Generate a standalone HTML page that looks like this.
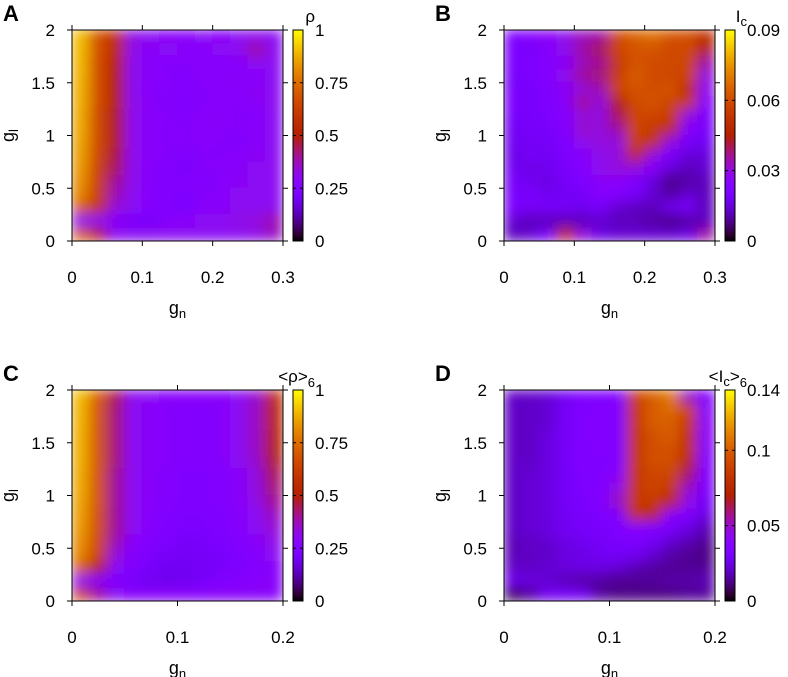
<!DOCTYPE html>
<html><head><meta charset="utf-8">
<style>
body{margin:0;background:#fff;}
svg{display:block;font-family:"Liberation Sans",sans-serif;}
</style></head>
<body>
<svg id="fig" width="788" height="677" viewBox="0 0 788 677">
<defs>
<filter id="blur" x="-10%" y="-10%" width="120%" height="120%"><feGaussianBlur stdDeviation="6.5" edgeMode="duplicate"/></filter>
</defs>
</svg>
<script>
// ---- data ----
const rowsY = [1.94,1.81,1.69,1.56,1.44,1.31,1.19,1.06,0.94,0.81,0.69,0.56,0.44,0.31,0.19,0.06];
const yTicks = ["0","0.5","1","1.5","2"];
const xTicksAB = ["0","0.1","0.2","0.3"];
const xTicksCD = ["0","0.1","0.2"];
const cbTicksA = ["0","0.25","0.5","0.75","1"];
const cbTicksB = ["0","0.03","0.06","0.09"];
const cbTicksC = ["0","0.25","0.5","0.75","1"];
const cbTicksD = ["0","0.05","0.1","0.14"];
const gridA = [
[.90,.68,.56,.32,.30,.28,.28,.30,.28,.30,.30,.30],
[.90,.68,.55,.32,.28,.30,.28,.27,.30,.30,.40,.30],
[.89,.67,.52,.31,.28,.27,.27,.28,.27,.28,.30,.30],
[.89,.67,.50,.31,.28,.27,.26,.28,.28,.28,.28,.30],
[.88,.67,.50,.31,.27,.27,.26,.27,.28,.28,.29,.30],
[.88,.67,.50,.31,.28,.26,.26,.27,.28,.27,.29,.30],
[.87,.66,.48,.31,.28,.27,.26,.28,.28,.27,.27,.30],
[.87,.66,.48,.31,.28,.27,.27,.28,.28,.27,.28,.30],
[.86,.66,.48,.31,.28,.27,.27,.28,.27,.26,.28,.30],
[.85,.65,.46,.31,.28,.27,.25,.27,.27,.28,.29,.30],
[.84,.64,.44,.31,.27,.26,.24,.27,.28,.28,.30,.30],
[.82,.63,.40,.31,.27,.26,.27,.26,.27,.29,.30,.30],
[.80,.62,.38,.30,.27,.26,.24,.27,.28,.30,.30,.30],
[.72,.58,.34,.30,.26,.25,.24,.28,.28,.30,.30,.30],
[.30,.30,.28,.23,.22,.27,.28,.30,.30,.32,.33,.38],
[.72,.52,.31,.30,.30,.30,.30,.30,.30,.30,.32,.36]];
const gridB = [
[.022,.024,.026,.028,.033,.035,.060,.065,.068,.062,.060,.050],
[.022,.020,.024,.028,.035,.040,.058,.062,.062,.058,.060,.045],
[.022,.022,.024,.026,.033,.036,.055,.062,.060,.060,.058,.035],
[.020,.022,.024,.028,.036,.038,.056,.064,.060,.058,.058,.030],
[.020,.020,.022,.026,.030,.034,.058,.062,.060,.062,.050,.028],
[.022,.020,.022,.026,.036,.030,.045,.060,.062,.058,.055,.025],
[.020,.020,.022,.024,.030,.030,.040,.058,.058,.056,.030,.022],
[.018,.020,.020,.024,.032,.030,.035,.058,.055,.050,.025,.020],
[.018,.018,.020,.022,.028,.030,.030,.056,.052,.030,.020,.018],
[.016,.020,.018,.022,.025,.028,.030,.050,.030,.022,.015,.015],
[.018,.016,.018,.020,.024,.028,.030,.030,.025,.015,.012,.014],
[.020,.018,.016,.020,.022,.026,.026,.022,.015,.008,.010,.012],
[.020,.020,.018,.018,.020,.024,.024,.020,.014,.010,.014,.012],
[.022,.020,.020,.020,.018,.020,.014,.012,.012,.018,.020,.012],
[.014,.012,.012,.012,.012,.014,.012,.012,.010,.008,.010,.012],
[.012,.014,.020,.050,.030,.016,.014,.014,.014,.014,.016,.035]];
const gridC = [
[.90,.72,.45,.30,.30,.28,.28,.28,.28,.30,.35,.56],
[.89,.70,.42,.30,.28,.27,.26,.26,.27,.30,.36,.54],
[.89,.70,.42,.30,.28,.27,.26,.26,.27,.30,.36,.54],
[.88,.70,.42,.30,.28,.27,.26,.26,.27,.30,.36,.52],
[.88,.70,.42,.30,.28,.27,.26,.26,.27,.30,.36,.50],
[.88,.70,.42,.30,.28,.27,.26,.26,.27,.30,.35,.48],
[.87,.69,.40,.30,.28,.26,.25,.25,.26,.28,.33,.44],
[.87,.69,.40,.30,.28,.26,.25,.25,.26,.28,.33,.42],
[.86,.69,.40,.30,.28,.26,.25,.25,.26,.28,.32,.40],
[.85,.68,.40,.30,.27,.25,.24,.24,.25,.27,.30,.36],
[.84,.68,.40,.30,.27,.25,.24,.24,.25,.27,.30,.34],
[.82,.66,.38,.28,.26,.24,.22,.22,.24,.26,.28,.32],
[.80,.64,.34,.27,.24,.22,.21,.22,.23,.25,.27,.30],
[.72,.50,.30,.25,.22,.20,.20,.21,.22,.24,.26,.28],
[.30,.28,.25,.22,.20,.19,.20,.22,.25,.27,.28,.28],
[.65,.40,.30,.28,.28,.28,.28,.28,.28,.28,.28,.28]];
const gridD = [
[.020,.020,.022,.028,.035,.036,.036,.090,.100,.110,.050,.035],
[.020,.020,.022,.030,.035,.036,.036,.085,.100,.105,.090,.038],
[.020,.020,.022,.030,.036,.036,.036,.085,.100,.100,.085,.040],
[.020,.020,.024,.030,.036,.036,.036,.085,.095,.100,.080,.040],
[.020,.020,.024,.030,.035,.036,.036,.085,.095,.095,.080,.038],
[.020,.020,.024,.030,.035,.035,.036,.085,.095,.095,.075,.036],
[.020,.022,.024,.030,.034,.035,.040,.085,.090,.090,.060,.036],
[.020,.022,.024,.030,.034,.035,.045,.085,.090,.085,.050,.034],
[.020,.022,.024,.030,.033,.035,.050,.085,.085,.075,.045,.030],
[.020,.022,.024,.028,.032,.034,.036,.080,.075,.040,.035,.025],
[.020,.022,.024,.028,.030,.032,.034,.038,.036,.032,.025,.018],
[.018,.020,.022,.025,.028,.030,.032,.034,.030,.022,.018,.014],
[.018,.020,.020,.024,.025,.028,.030,.028,.022,.016,.014,.012],
[.020,.020,.022,.024,.025,.025,.022,.018,.015,.014,.014,.014],
[.026,.024,.022,.018,.016,.015,.014,.014,.015,.016,.016,.018],
[.008,.015,.028,.030,.028,.015,.012,.012,.012,.012,.014,.014]];

// ---- helpers ----
const NS="http://www.w3.org/2000/svg";
const svg=document.getElementById('fig');
function mk(tag,attrs,parent){const e=document.createElementNS(NS,tag);for(const k in attrs)e.setAttribute(k,attrs[k]);(parent||svg).appendChild(e);return e;}
function pal(t){t=Math.max(0,Math.min(1,t));const r=Math.sqrt(t),g=t*t*t,b=Math.max(0,Math.sin(2*Math.PI*t));
 return `rgb(${Math.round(r*255)},${Math.round(g*255)},${Math.round(b*255)})`;}
const S=211;

function panel(id,letter,px,py,grid,xMax,cbMax,xTicks,cbTicks,cbTitleHtml){
 const g=mk('g',{});
 
 
 const xs=v=>px+v/xMax*S, ys=v=>py+S-v/2*S;
 const cp=mk('clipPath',{id:'clip'+id},g);
 mk('rect',{x:px,y:py,width:S,height:S},cp);
 const hm=mk('g',{'clip-path':'url(#clip'+id+')'},g);
 
 
 const inner=mk('g',{filter:'url(#blur)'},hm);
 const nc=grid[0].length, nr=grid.length, dx=xMax/nc, dy=2/nr;
 for(let r=0;r<nr;r++){
  for(let c=0;c<nc;c++){
   const x0=xs(c*dx), x1=xs((c+1)*dx);
   const yc=rowsY[r], y0=ys(yc+dy/2), y1=ys(yc-dy/2);
   const cell=mk('rect',{x:x0-0.5,y:y0-0.5,width:x1-x0+1,height:y1-y0+1,fill:pal(grid[r][c]/cbMax)},inner);
   
   
  }
 }
 mk('rect',{x:px,y:py,width:S,height:S,fill:'none',stroke:'#000','stroke-width':1},g);
 xTicks.forEach(t=>{const v=parseFloat(t),x=xs(v);
  mk('line',{x1:x,x2:x,y1:py+S,y2:py+S+5,stroke:'#000'},g);
  mk('line',{x1:x,x2:x,y1:py,y2:py-5,stroke:'#000'},g);
  const tx=mk('text',{x:x,y:py+S+42,'font-size':17,'text-anchor':'middle',fill:'#000'},g);tx.textContent=t;
  
  
 });
 yTicks.forEach(t=>{const v=parseFloat(t),y=ys(v);
  mk('line',{x1:px-5,x2:px,y1:y,y2:y,stroke:'#000'},g);
  mk('line',{x1:px+S,x2:px+S+5,y1:y,y2:y,stroke:'#000'},g);
  const tx=mk('text',{x:px-17,y:y+6,'font-size':17,'text-anchor':'end',fill:'#000'},g);tx.textContent=t;
  
  
 });
 const xt=mk('text',{x:px+S/2,y:py+S+73,'font-size':18,'text-anchor':'middle'},g);
 xt.innerHTML='g<tspan font-size="13" dy="4">n</tspan>';
 
 
 const yt=mk('text',{x:0,y:0,'font-size':18,'text-anchor':'middle',transform:`translate(${px-58},${py+S/2}) rotate(-90)`},g);
 yt.innerHTML='g<tspan font-size="13" dy="4">l</tspan>';
 
 
 const lt=mk('text',{x:px-69,y:py-9,'font-size':22,'font-weight':'bold'},g);lt.textContent=letter;
 
 
 const cx=px+S+10, cw=10;
 const gid='grad'+id;
 const lg=mk('linearGradient',{id:gid,x1:0,y1:1,x2:0,y2:0},g);
 for(let i=0;i<=40;i++){mk('stop',{offset:i/40,'stop-color':pal(i/40)},lg);}
 const cb=mk('rect',{x:cx,y:py,width:cw,height:S,fill:'url(#'+gid+')',stroke:'#000','stroke-width':1},g);
 
 
 cbTicks.forEach(t=>{const v=parseFloat(t),y=py+S-v/cbMax*S;
  mk('line',{x1:cx,x2:cx+3,y1:y,y2:y,stroke:'#000'},g);
  mk('line',{x1:cx+cw-3,x2:cx+cw,y1:y,y2:y,stroke:'#000'},g);
  const tx=mk('text',{x:cx+22,y:y+6,'font-size':17,fill:'#000'},g);tx.textContent=t;
  
  
 });
 const ct=mk('text',{x:cx+cw+12,y:py-8,'font-size':17,'text-anchor':'end'},g);
 ct.innerHTML=cbTitleHtml;
 
 
}
panel('a','A',72,30,gridA,0.3,1,xTicksAB,cbTicksA,'ρ');
panel('b','B',504,30,gridB,0.3,0.09,xTicksAB,cbTicksB,'I<tspan font-size="13" dy="4">c</tspan>');
panel('c','C',72,390,gridC,0.2,1,xTicksCD,cbTicksC,'&lt;ρ&gt;<tspan font-size="13" dy="5">6</tspan>');
panel('d','D',504,390,gridD,0.2,0.14,xTicksCD,cbTicksD,'&lt;I<tspan font-size="13" dy="4">c</tspan><tspan dy="-4">&gt;</tspan><tspan font-size="13" dy="5">6</tspan>');
</script>
</body></html>
